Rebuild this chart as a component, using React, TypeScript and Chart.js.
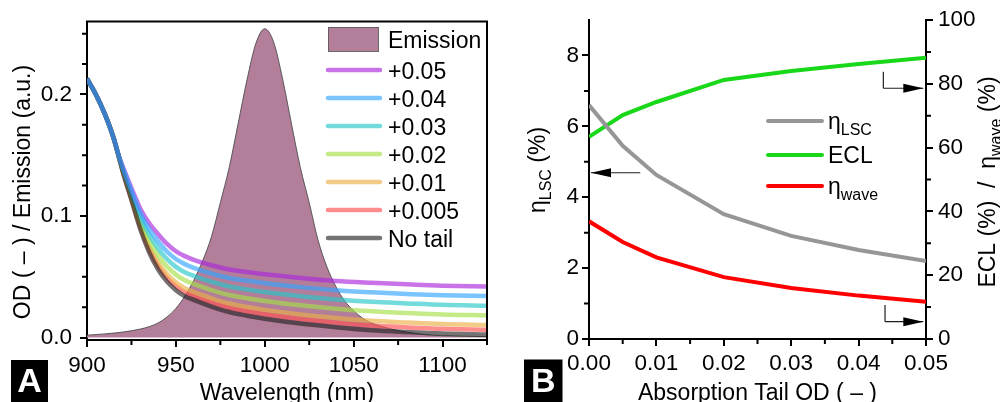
import React, { useEffect, useRef } from 'react';
import { Chart, registerables } from 'chart.js';
Chart.register(...registerables);

const FONT = '"Liberation Sans", Arial, Helvetica, sans-serif';

// ---------- Panel A data ----------
const WAVELENGTH = [900, 905, 910, 915, 918, 920, 925, 930, 935, 940, 945, 950, 955, 960, 970, 980, 990, 1000, 1020, 1040, 1060, 1080, 1100, 1125];
const OD_P050 = [0.213, 0.2, 0.184, 0.164, 0.149, 0.141, 0.123, 0.106, 0.094, 0.085, 0.077, 0.071, 0.067, 0.064, 0.0595, 0.056, 0.054, 0.052, 0.049, 0.0465, 0.045, 0.0438, 0.0427, 0.042];
const OD_P040 = [0.213, 0.2, 0.184, 0.164, 0.1488, 0.1402, 0.121, 0.1026, 0.0892, 0.0792, 0.0708, 0.0646, 0.0604, 0.0574, 0.0527, 0.049, 0.0468, 0.0447, 0.0415, 0.0389, 0.0372, 0.0359, 0.0348, 0.0341];
const OD_P030 = [0.213, 0.2, 0.184, 0.164, 0.1486, 0.1394, 0.119, 0.0992, 0.0844, 0.0734, 0.0646, 0.0582, 0.0538, 0.0508, 0.0459, 0.042, 0.0396, 0.0374, 0.034, 0.0313, 0.0294, 0.0281, 0.0269, 0.0262];
const OD_P020 = [0.213, 0.2, 0.184, 0.164, 0.1484, 0.1386, 0.117, 0.0958, 0.0796, 0.0676, 0.0584, 0.0518, 0.0472, 0.0442, 0.0391, 0.035, 0.0324, 0.0301, 0.0265, 0.0237, 0.0216, 0.0202, 0.019, 0.0183];
const OD_P010 = [0.213, 0.2, 0.184, 0.164, 0.1482, 0.1378, 0.115, 0.0924, 0.0748, 0.0618, 0.0522, 0.0454, 0.0406, 0.0376, 0.0323, 0.028, 0.0252, 0.0228, 0.019, 0.0161, 0.0138, 0.0124, 0.0112, 0.0104];
const OD_P005 = [0.213, 0.2, 0.184, 0.164, 0.1481, 0.1374, 0.114, 0.0907, 0.0724, 0.0589, 0.0491, 0.0422, 0.0373, 0.0343, 0.0289, 0.0245, 0.0216, 0.0192, 0.0153, 0.0123, 0.0099, 0.0084, 0.0072, 0.0065];
const OD_NO_TAIL = [0.213, 0.2, 0.184, 0.164, 0.148, 0.137, 0.113, 0.089, 0.07, 0.056, 0.046, 0.039, 0.034, 0.031, 0.0255, 0.021, 0.018, 0.0155, 0.0115, 0.0085, 0.006, 0.0045, 0.0033, 0.0025];
const SERIES_A_LABELS = ['+0.05', '+0.04', '+0.03', '+0.02', '+0.01', '+0.005', 'No tail'];

const EMISSION_WL = [900, 910, 920, 930, 935, 940, 945, 950, 955, 960, 965, 970, 975, 980, 985, 990, 995, 1000, 1005, 1010, 1015, 1020, 1025, 1030, 1035, 1040, 1045, 1050, 1055, 1060, 1070, 1080, 1090, 1100, 1125];
const EMISSION = [0.002, 0.003, 0.0045, 0.007, 0.009, 0.012, 0.017, 0.024, 0.034, 0.047, 0.063, 0.083, 0.111, 0.14, 0.176, 0.212, 0.242, 0.254, 0.243, 0.213, 0.176, 0.14, 0.111, 0.08, 0.058, 0.042, 0.03, 0.022, 0.016, 0.012, 0.0075, 0.0045, 0.0025, 0.0015, 0.0008];

const A_X_TICKS = [900, 950, 1000, 1050, 1100];
const A_X_TICK_LABELS = ['900', '950', '1000', '1050', '1100'];
const A_X_MINOR = [925, 975, 1025, 1075, 1125];
const A_Y_TICKS = [0, 0.1, 0.2];
const A_Y_TICK_LABELS = ['0.0', '0.1', '0.2'];
const A_Y_MINOR = [0.025, 0.05, 0.075, 0.125, 0.15, 0.175, 0.225, 0.25];

// ---------- Panel B data ----------
const TAIL_OD = [0, 0.005, 0.01, 0.02, 0.03, 0.04, 0.05];
const ETA_LSC = [6.6, 5.45, 4.63, 3.52, 2.91, 2.51, 2.2];
const ECL = [63.4, 70.2, 74.3, 81.2, 84.0, 86.2, 88.2];
const ETA_WAVE = [36.9, 30.4, 25.6, 19.4, 16.0, 13.6, 11.7];

const B_X_TICKS = [0, 0.01, 0.02, 0.03, 0.04, 0.05];
const B_X_TICK_LABELS = ['0.00', '0.01', '0.02', '0.03', '0.04', '0.05'];
const B_X_MINOR = [0.005, 0.015, 0.025, 0.035, 0.045];
const B_Y_TICKS = [0, 2, 4, 6, 8];
const B_Y_TICK_LABELS = ['0', '2', '4', '6', '8'];
const B_Y_MINOR = [1, 3, 5, 7];
const B_Y2_TICKS = [0, 20, 40, 60, 80, 100];
const B_Y2_TICK_LABELS = ['0', '20', '40', '60', '80', '100'];
const B_Y2_MINOR = [10, 30, 50, 70, 90];

// ---------- styles ----------
const A_COLORS = [
  'rgba(170,40,220,0.65)',
  'rgba(50,165,255,0.65)',
  'rgba(40,200,200,0.65)',
  'rgba(165,225,70,0.65)',
  'rgba(235,175,70,0.65)',
  'rgba(255,80,80,0.65)',
  'rgba(30,30,30,0.62)',
];
const A_ORDER = [3, 1, 4, 5, 6, 7, 2];
const EM_FILL = 'rgb(178,126,154)';
const TICK_FONT = { family: FONT, size: 22.5 };

type Part = { t: string; sub?: boolean };

function drawRich(ctx: CanvasRenderingContext2D, parts: Part[], x: number, y: number, size: number, subSize: number, subShift: number, center: boolean) {
  let w = 0;
  for (const p of parts) {
    ctx.font = `${p.sub ? subSize : size}px ${FONT}`;
    w += ctx.measureText(p.t).width;
  }
  let cx = center ? x - w / 2 : x;
  ctx.textAlign = 'left';
  ctx.textBaseline = 'alphabetic';
  for (const p of parts) {
    ctx.font = `${p.sub ? subSize : size}px ${FONT}`;
    ctx.fillText(p.t, cx, p.sub ? y + subShift : y);
    cx += ctx.measureText(p.t).width;
  }
}

function drawRotated(ctx: CanvasRenderingContext2D, parts: Part[], bx: number, cy: number) {
  ctx.save();
  ctx.translate(bx, cy);
  ctx.rotate(-Math.PI / 2);
  drawRich(ctx, parts, 0, 0, 23, 16, 6, true);
  ctx.restore();
}

function drawLabelBox(ctx: CanvasRenderingContext2D, letter: string, x: number, y: number, w: number, h: number) {
  ctx.fillStyle = '#000';
  ctx.fillRect(x, y, w, h);
  ctx.fillStyle = '#fff';
  ctx.font = `bold 34px ${FONT}`;
  ctx.textAlign = 'center';
  ctx.textBaseline = 'alphabetic';
  ctx.fillText(letter, x + w / 2, y + 32);
}

function arrowHead(ctx: CanvasRenderingContext2D, x1: number, y1: number, x2: number, y2: number) {
  const len = 20, hw = 4.5;
  const ang = Math.atan2(y2 - y1, x2 - x1);
  ctx.beginPath();
  ctx.moveTo(x1, y1);
  ctx.lineTo(x2, y2);
  ctx.stroke();
  ctx.beginPath();
  ctx.moveTo(x2, y2);
  ctx.lineTo(x2 - len * Math.cos(ang) + hw * Math.sin(ang), y2 - len * Math.sin(ang) - hw * Math.cos(ang));
  ctx.lineTo(x2 - len * Math.cos(ang) - hw * Math.sin(ang), y2 - len * Math.sin(ang) + hw * Math.cos(ang));
  ctx.closePath();
  ctx.fill();
}

function axisCommon(width: number) {
  return {
    grid: { drawOnChartArea: false, drawTicks: true, tickLength: 7, color: '#000', lineWidth: 2 },
    border: { display: true, color: '#000', width: width },
  };
}

function makeA(canvas: HTMLCanvasElement) {
  const series = [OD_P050, OD_P040, OD_P030, OD_P020, OD_P010, OD_P005, OD_NO_TAIL];
  const datasets: any[] = [
    {
      label: 'Emission',
      data: EMISSION_WL.map((x, i) => ({ x, y: EMISSION[i] })),
      fill: 'origin',
      backgroundColor: EM_FILL,
      borderColor: 'rgba(70,70,70,0.85)',
      borderWidth: 1,
      pointRadius: 0,
      cubicInterpolationMode: 'monotone',
      order: 10,
    },
  ];
  series.forEach((s, k) => {
    datasets.push({
      label: SERIES_A_LABELS[k],
      data: WAVELENGTH.map((x, i) => ({ x, y: s[i] })),
      borderColor: A_COLORS[k],
      borderWidth: 4.5,
      pointRadius: 0,
      fill: false,
      cubicInterpolationMode: 'monotone',
      order: A_ORDER[k],
    });
  });

  const plugin = {
    id: 'panelA',
    afterDraw(chart: any) {
      const ctx: CanvasRenderingContext2D = chart.ctx;
      const { left, right, top, bottom } = chart.chartArea;
      const xs = chart.scales.x, ys = chart.scales.y;
      ctx.save();
      ctx.strokeStyle = '#000';
      ctx.lineWidth = 2;
      ctx.beginPath();
      ctx.moveTo(left - 1, top);
      ctx.lineTo(right, top);
      ctx.lineTo(right, bottom + 1);
      ctx.stroke();
      ctx.beginPath();
      A_X_MINOR.forEach((v) => {
        const px = xs.getPixelForValue(v);
        ctx.moveTo(px, bottom);
        ctx.lineTo(px, bottom + 5);
      });
      A_Y_MINOR.forEach((v) => {
        const py = ys.getPixelForValue(v);
        ctx.moveTo(left, py);
        ctx.lineTo(left - 5, py);
      });
      ctx.stroke();

      // legend
      const lx1 = 328, lx2 = 380, tx = 388;
      ctx.fillStyle = EM_FILL;
      ctx.fillRect(328, 27, 50, 24);
      ctx.strokeStyle = 'rgba(90,90,90,0.9)';
      ctx.lineWidth = 1;
      ctx.strokeRect(328.5, 27.5, 50, 24);
      ctx.fillStyle = '#000';
      ctx.font = `23px ${FONT}`;
      ctx.textAlign = 'left';
      ctx.textBaseline = 'alphabetic';
      ctx.fillText('Emission', tx, 47.5);
      ctx.lineCap = 'round';
      SERIES_A_LABELS.forEach((lab, k) => {
        const y = 70 + k * 28;
        ctx.strokeStyle = A_COLORS[k];
        ctx.lineWidth = 4.5;
        ctx.beginPath();
        ctx.moveTo(lx1, y);
        ctx.lineTo(lx2, y);
        ctx.stroke();
        ctx.fillStyle = '#000';
        ctx.fillText(lab, tx, y + 8.5);
      });

      // titles
      ctx.fillStyle = '#000';
      drawRotated(ctx, [{ t: 'OD ( – ) / Emission (a.u.)' }], 30, 192);
      drawRich(ctx, [{ t: 'Wavelength (nm)' }], (left + right) / 2, 400, 23, 16, 6, true);

      drawLabelBox(ctx, 'A', 11, 360, 37, 42);
      ctx.restore();
    },
  };

  return new Chart(canvas, {
    type: 'line',
    data: { datasets },
    options: {
      responsive: false,
      animation: false,
      devicePixelRatio: 1,
      layout: { padding: { left: 0, right: 13, top: 20, bottom: 0 } },
      plugins: { legend: { display: false }, tooltip: { enabled: false } },
      scales: {
        x: {
          type: 'linear',
          min: 900,
          max: 1125,
          afterBuildTicks: (s: any) => { s.ticks = A_X_TICKS.map((v) => ({ value: v })); },
          afterFit: (s: any) => { s.height = 62; },
          ticks: {
            autoSkip: false, maxRotation: 0, padding: 5, color: '#000', font: TICK_FONT,
            callback: (v: any) => A_X_TICK_LABELS[A_X_TICKS.indexOf(v)],
          },
          ...axisCommon(2),
        },
        y: {
          type: 'linear',
          min: -0.002,
          max: 0.26,
          afterBuildTicks: (s: any) => { s.ticks = A_Y_TICKS.map((v) => ({ value: v })); },
          afterFit: (s: any) => { s.width = 87; },
          ticks: {
            autoSkip: false, padding: 8, color: '#000', font: TICK_FONT,
            callback: (v: any) => A_Y_TICK_LABELS[A_Y_TICKS.indexOf(v)],
          },
          ...axisCommon(2),
        },
      },
    } as any,
    plugins: [plugin],
  } as any);
}

function makeB(canvas: HTMLCanvasElement) {
  const colLSC = 'rgb(150,150,150)';
  const colECL = 'rgb(25,215,25)';
  const colWave = 'rgb(255,0,0)';
  const datasets: any[] = [
    { label: 'ηLSC', data: TAIL_OD.map((x, i) => ({ x, y: ETA_LSC[i] })), yAxisID: 'y', borderColor: colLSC, borderWidth: 4, pointRadius: 0, tension: 0, fill: false },
    { label: 'ECL', data: TAIL_OD.map((x, i) => ({ x, y: ECL[i] })), yAxisID: 'y2', borderColor: colECL, borderWidth: 4, pointRadius: 0, tension: 0, fill: false },
    { label: 'ηwave', data: TAIL_OD.map((x, i) => ({ x, y: ETA_WAVE[i] })), yAxisID: 'y2', borderColor: colWave, borderWidth: 4, pointRadius: 0, tension: 0, fill: false },
  ];

  const plugin = {
    id: 'panelB',
    afterDraw(chart: any) {
      const ctx: CanvasRenderingContext2D = chart.ctx;
      const { left, right, bottom } = chart.chartArea;
      const xs = chart.scales.x, ys = chart.scales.y, y2 = chart.scales.y2;
      ctx.save();
      ctx.strokeStyle = '#000';
      ctx.lineWidth = 2;
      ctx.beginPath();
      B_X_MINOR.forEach((v) => {
        const px = xs.getPixelForValue(v);
        ctx.moveTo(px, bottom);
        ctx.lineTo(px, bottom + 5);
      });
      B_Y_MINOR.forEach((v) => {
        const py = ys.getPixelForValue(v);
        ctx.moveTo(left, py);
        ctx.lineTo(left - 5, py);
      });
      B_Y2_MINOR.forEach((v) => {
        const py = y2.getPixelForValue(v);
        ctx.moveTo(right, py);
        ctx.lineTo(right + 5, py);
      });
      ctx.stroke();

      // arrows
      ctx.strokeStyle = 'rgb(30,30,30)';
      ctx.fillStyle = '#000';
      ctx.lineWidth = 1.2;
      const ay = ys.getPixelForValue(4.69);
      arrowHead(ctx, xs.getPixelForValue(0.0076), ay, xs.getPixelForValue(0.0003), ay);
      const bx1 = xs.getPixelForValue(0.04367);
      const byTop = y2.getPixelForValue(83.8), byBot = y2.getPixelForValue(78.6);
      ctx.beginPath();
      ctx.moveTo(bx1, byTop);
      ctx.lineTo(bx1, byBot);
      ctx.stroke();
      arrowHead(ctx, bx1, byBot, xs.getPixelForValue(0.0496), byBot);
      const cx1 = xs.getPixelForValue(0.04392);
      const cyTop = y2.getPixelForValue(10.66), cyBot = y2.getPixelForValue(5.42);
      ctx.beginPath();
      ctx.moveTo(cx1, cyTop);
      ctx.lineTo(cx1, cyBot);
      ctx.stroke();
      arrowHead(ctx, cx1, cyBot, xs.getPixelForValue(0.0496), cyBot);

      // legend
      const items: { c: string; parts: Part[] }[] = [
        { c: colLSC, parts: [{ t: 'η' }, { t: 'LSC', sub: true }] },
        { c: colECL, parts: [{ t: 'ECL' }] },
        { c: colWave, parts: [{ t: 'η' }, { t: 'wave', sub: true }] },
      ];
      const ly = [121, 155, 186];
      ctx.lineCap = 'round';
      items.forEach((it, k) => {
        ctx.strokeStyle = it.c;
        ctx.lineWidth = 4;
        ctx.beginPath();
        ctx.moveTo(268, ly[k]);
        ctx.lineTo(322, ly[k]);
        ctx.stroke();
        ctx.fillStyle = '#000';
        drawRich(ctx, it.parts, 328, ly[k] + 8, 23, 16, 6, false);
      });

      // titles
      ctx.fillStyle = '#000';
      drawRotated(ctx, [{ t: 'η' }, { t: 'LSC', sub: true }, { t: ' (%)' }], 45, 170);
      drawRotated(ctx, [{ t: 'ECL (%)  /  η' }, { t: 'wave', sub: true }, { t: ' (%)' }], 495, 182);
      drawRich(ctx, [{ t: 'Absorption Tail OD ( – )' }], (left + right) / 2, 400, 23, 16, 6, true);

      drawLabelBox(ctx, 'B', 24, 359.5, 38.5, 42.5);
      ctx.restore();
    },
  };

  return new Chart(canvas, {
    type: 'line',
    data: { datasets },
    options: {
      responsive: false,
      animation: false,
      devicePixelRatio: 1,
      layout: { padding: { left: 0, right: 0, top: 20, bottom: 0 } },
      plugins: { legend: { display: false }, tooltip: { enabled: false } },
      scales: {
        x: {
          type: 'linear',
          min: 0,
          max: 0.05,
          afterBuildTicks: (s: any) => { s.ticks = B_X_TICKS.map((v) => ({ value: v })); },
          afterFit: (s: any) => { s.height = 63; },
          ticks: {
            autoSkip: false, maxRotation: 0, padding: 4, color: '#000', font: TICK_FONT,
            callback: (v: any) => B_X_TICK_LABELS[B_X_TICKS.indexOf(v)],
          },
          ...axisCommon(2),
        },
        y: {
          type: 'linear',
          position: 'left',
          min: 0,
          max: 9,
          afterBuildTicks: (s: any) => { s.ticks = B_Y_TICKS.map((v) => ({ value: v })); },
          afterFit: (s: any) => { s.width = 89; },
          ticks: {
            autoSkip: false, padding: 3, color: '#000', font: TICK_FONT,
            callback: (v: any) => B_Y_TICK_LABELS[B_Y_TICKS.indexOf(v)],
          },
          ...axisCommon(2),
        },
        y2: {
          type: 'linear',
          position: 'right',
          min: 0,
          max: 100,
          afterBuildTicks: (s: any) => { s.ticks = B_Y2_TICKS.map((v) => ({ value: v })); },
          afterFit: (s: any) => { s.width = 74; },
          ticks: {
            autoSkip: false, padding: 5, color: '#000', font: TICK_FONT,
            callback: (v: any) => B_Y2_TICK_LABELS[B_Y2_TICKS.indexOf(v)],
          },
          ...axisCommon(2),
        },
      },
    } as any,
    plugins: [plugin],
  } as any);
}

export default function App() {
  const refA = useRef<HTMLCanvasElement>(null);
  const refB = useRef<HTMLCanvasElement>(null);
  useEffect(() => {
    const a = makeA(refA.current as HTMLCanvasElement);
    const b = makeB(refB.current as HTMLCanvasElement);
    return () => {
      a.destroy();
      b.destroy();
    };
  }, []);
  return (
    <div style={{ position: 'fixed', left: 0, top: 0, width: 1000, height: 402, background: '#fff', overflow: 'hidden' }}>
      <canvas ref={refA} width={500} height={402} style={{ position: 'absolute', left: 0, top: 0, width: 500, height: 402 }} />
      <canvas ref={refB} width={500} height={402} style={{ position: 'absolute', left: 500, top: 0, width: 500, height: 402 }} />
    </div>
  );
}
